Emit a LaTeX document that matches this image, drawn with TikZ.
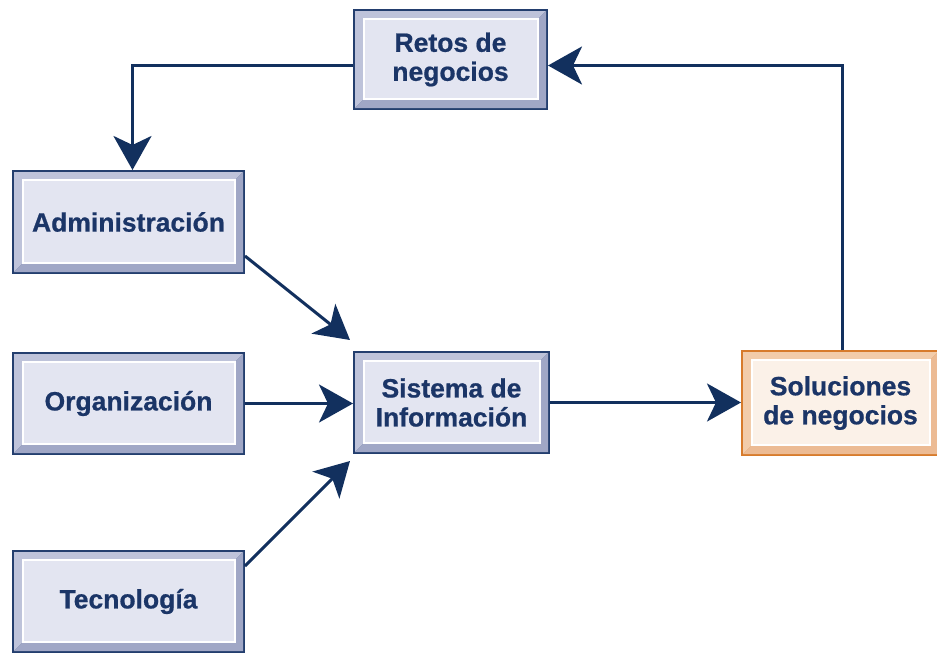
\documentclass[tikz,border=0pt]{standalone}
\usepackage{fontspec}
\setmainfont{Liberation Sans}
\newfontfamily\heavyfont{Liberation Sans Bold}[FakeBold=0.7]
\usetikzlibrary{arrows.meta,calc}
\definecolor{bborder}{HTML}{233E6E}
\definecolor{blight}{HTML}{BEC3DA}
\definecolor{bdark}{HTML}{A0A7C6}
\definecolor{bface}{HTML}{E3E5F1}
\definecolor{oborder}{HTML}{D77B2C}
\definecolor{olight}{HTML}{F2CCAA}
\definecolor{odark}{HTML}{ECBB94}
\definecolor{oface}{HTML}{FBF1E8}
\definecolor{arrcol}{HTML}{12305E}
\definecolor{txtcol}{HTML}{1B3567}
\newcommand\bevbox[8]{% name, x1, y1, x2, y2, scheme (b/o), text
  \fill[#6border] (#2,#3) rectangle (#4,#5);
  \fill[#6light] ($(#2,#3)+(2,2)$) -- ($(#4,#3)+(-2,2)$) -- ($(#4,#3)+(-10,10)$) -- ($(#2,#5)+(11,-11)$) -- ($(#2,#5)+(2,-2)$) -- cycle;
  \fill[#6dark] ($(#4,#3)+(-2,2)$) -- ($(#4,#5)+(-2,-2)$) -- ($(#2,#5)+(2,-2)$) -- ($(#2,#5)+(11,-11)$) -- ($(#4,#3)+(-10,10)$) -- cycle;
  \filldraw[fill=#6face, draw=white, line width=1.2pt] ($(#2,#3)+(11,10)$) rectangle ($(#4,#5)+(-10,-11)$);
  \node[lbl, minimum width={#4-#2}, minimum height={#5-#3}] (#1) at ($(#2,#3)!0.5!(#4,#5)$) {#7};
}
\begin{document}
\begin{tikzpicture}[x=1pt,y=-1pt,
  lbl/.style={inner sep=0pt, outer sep=0pt, align=center, text=txtcol,
    font=\heavyfont\fontsize{26.5}{29}\selectfont},
  arr/.style={draw=arrcol, line width=3pt,
    -{Stealth[length=34pt, width=38pt, inset=9pt]}}]
\useasboundingbox (0,0) rectangle (937,654);
\bevbox{ret}{353}{9}{548}{110}{b}{Retos de\\negocios}{}
\bevbox{adm}{12}{170}{245}{274}{b}{Administración}{}
\bevbox{org}{12}{352}{245}{455}{b}{Organización}{}
\bevbox{tec}{12}{550}{245}{653}{b}{Tecnología}{}
\bevbox{sis}{353}{351}{550}{454}{b}{Sistema de\\Información}{}
\bevbox{sol}{741}{350}{940}{456}{o}{Soluciones\\de negocios}{}
\draw[arr] ($(ret.west)+(0,6)$) -| ($(adm.north)+(4,0)$);
\draw[arr] ($(sol.north)+(2,0)$) |- ($(ret.east)+(0,6)$);
\draw[arr] ($(adm.south east)+(0,-18)$) -- ($(sis.north west)+(-3,-11)$);
\draw[arr] (org.east) -- (org.east -| sis.west);
\draw[arr] ($(tec.north east)+(0,16)$) -- ($(sis.south west)+(-3,7)$);
\draw[arr] (sis.east) -- (sis.east -| sol.west);
\end{tikzpicture}
\end{document}
